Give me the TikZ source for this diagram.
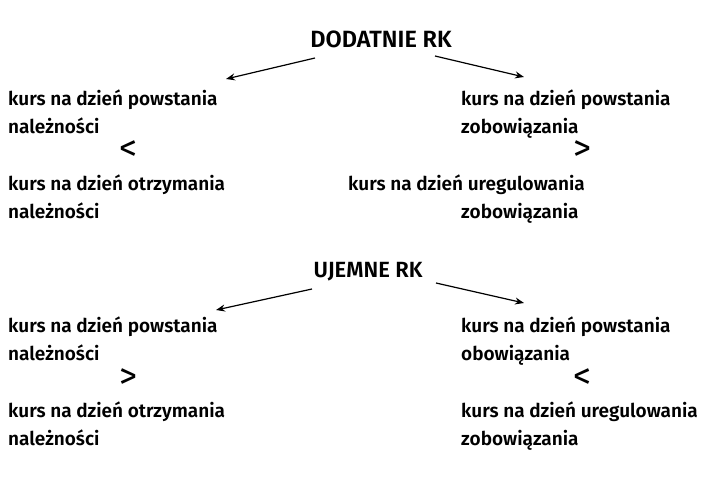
\documentclass[tikz,border=0pt]{standalone}
\usepackage{fontspec}
\setmainfont{Fira Sans SemiBold}
\newfontfamily\relfont{Fira Sans}
\usetikzlibrary{arrows.meta}
\begin{document}
\begin{tikzpicture}[x=1pt,y=-1pt]
  \tikzstyle{every node}=[anchor=base west,inner sep=0pt,font=\fontsize{19}{22}\selectfont]
  \tikzstyle{head}=[anchor=base,font=\fontsize{22}{24}\selectfont]
  \tikzstyle{rel}=[anchor=center,font=\relfont\fontsize{36}{38}\selectfont]
  \tikzstyle{link}=[line width=1.2pt,-{Stealth[length=9pt,width=7pt]}]
  \useasboundingbox (0,0) rectangle (720,487);
  % dodatnie
  \node [head,font=\fontsize{23.5}{26}\selectfont] (dod) at (381,48) {DODATNIE RK};
  \node (d1) at (8,105) {kurs na dzień powstania};
  \node (d2) at (8,133) {należności};
  \node [rel] (d3) at (128,151) {<};
  \node (d4) at (8,190) {kurs na dzień otrzymania};
  \node (d5) at (8,218) {należności};
  \node (e1) at (461,105) {kurs na dzień powstania};
  \node (e2) at (461,133) {zobowiązania};
  \node [rel] (e3) at (582,151) {>};
  \node (e4) at (348,190) {kurs na dzień uregulowania};
  \node (e5) at (461,218) {zobowiązania};
  \coordinate (dl) at (315,58);
  \coordinate (dr) at (435,56);
  \draw [link] (dl) -- (226,79);
  \draw [link] (dr) -- (524,77);
  % ujemne
  \node [head] (uj) at (368,277) {UJEMNE RK};
  \node (u1) at (8,332) {kurs na dzień powstania};
  \node (u2) at (8,360) {należności};
  \node [rel] (u3) at (128,379) {>};
  \node (u4) at (8,417) {kurs na dzień otrzymania};
  \node (u5) at (8,445) {należności};
  \node (v1) at (461,332) {kurs na dzień powstania};
  \node (v2) at (461,360) {obowiązania};
  \node [rel] (v3) at (582,379) {<};
  \node (v4) at (461,417) {kurs na dzień uregulowania};
  \node (v5) at (461,445) {zobowiązania};
  \coordinate (ul) at (312,289);
  \coordinate (ur) at (436,283);
  \draw [link] (ul) -- (216,310);
  \draw [link] (ur) -- (524,303);
\end{tikzpicture}
\end{document}
